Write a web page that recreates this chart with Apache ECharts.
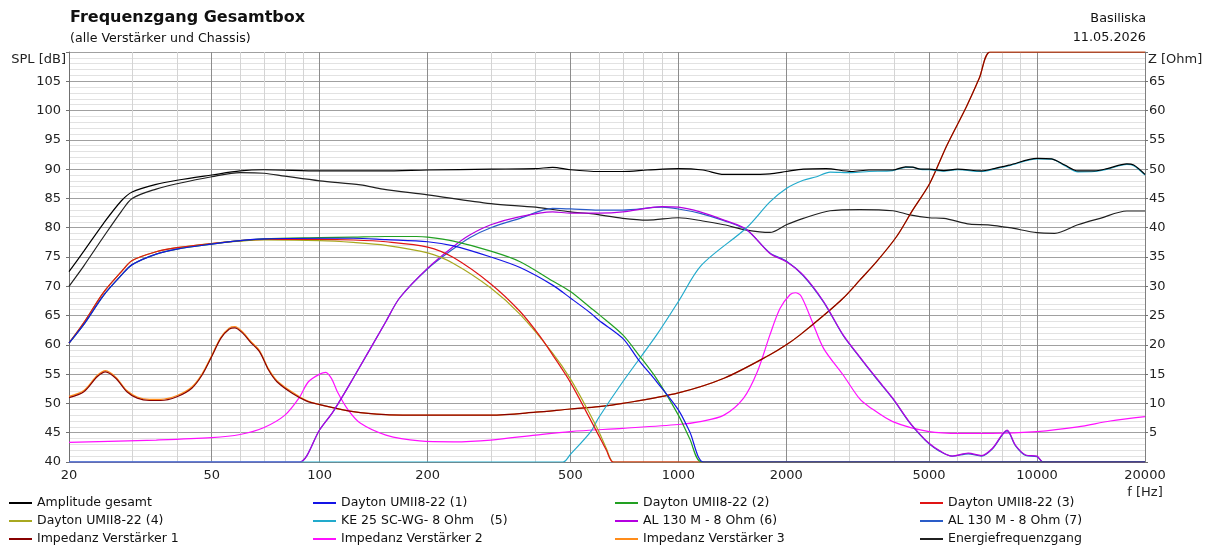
<!DOCTYPE html>
<html>
<head>
<meta charset="utf-8">
<script src="https://cdn.jsdelivr.net/npm/echarts@6/dist/echarts.min.js"></script>
<style>
html, body { margin: 0; padding: 0; background: #fff; }
#main { width: 1212px; height: 552px; }
</style>
</head>
<body>
<div id="main"></div>
<script>
// Frequenzgang Gesamtbox
const FONT = 'DejaVu Sans';

const majorFreqs = [20, 50, 100, 200, 500, 1000, 2000, 5000, 10000, 20000];
const minorFreqs = [30, 40, 60, 70, 80, 90, 300, 400, 600, 700, 800, 900,
  3000, 4000, 6000, 7000, 8000, 9000];

// SPL [dB]
const ampGesamt = [[20,72.5],[22,76.0],[25,80.8],[28,84.6],[30,86.1],[35,87.4],[40,88.1],[50,89.0],[60,89.7],[70,89.9],
  [100,89.7],[150,89.7],[200,89.85],[300,90.0],[400,90.1],[446,90.3],[500,89.9],[600,89.6],[700,89.6],[820,89.85],
  [1000,90.1],[1170,89.85],[1340,89.1],[1550,89.1],[1800,89.2],[2000,89.6],[2230,90.0],[2580,90.1],[3040,89.6],[3400,89.85],
  [3960,89.85],[4300,90.4],[4500,90.35],[4740,90.0],[5000,90.0],[5500,89.75],[6000,90.0],[7000,89.7],[7600,90.1],[8380,90.7],
  [10000,91.85],[10980,91.75],[11950,90.7],[13000,89.7],[14450,89.7],[15700,90.1],[17800,90.9],[18600,90.7],[20000,89.1]];

const energie = [[20,70.0],[22,73.5],[25,78.5],[28,82.8],[30,85.0],[35,86.6],[40,87.5],[50,88.7],[60,89.4],[70,89.3],
  [80,88.8],[100,88.0],[130,87.3],[150,86.6],[200,85.6],[300,84.1],[400,83.5],[500,82.7],[570,82.4],[700,81.6],
  [820,81.3],[1000,81.7],[1170,81.15],[1340,80.5],[1550,79.6],[1800,79.2],[2000,80.5],[2230,81.6],[2650,82.9],[3200,83.1],
  [3960,82.9],[4420,82.2],[5000,81.7],[5500,81.6],[6500,80.6],[7300,80.5],[8380,80.0],[10000,79.15],[11200,79.05],[13000,80.5],
  [15000,81.6],[17800,82.85],[20000,82.85]];

const dayton1 = [[20,60.3],[22,63.5],[25,68.5],[28,71.9],[30,73.7],[35,75.5],[40,76.35],[50,77.2],[60,77.8],[70,78.1],
  [100,78.2],[124,78.2],[153,77.95],[200,77.6],[236,76.9],[300,75.0],[362,73.2],[446,70.2],[500,68.0],[570,65.4],
  [600,64.2],[700,61.1],[775,57.4],[870,53.7],[1000,48.9],[1075,45.2],[1177,40],[1400,40],[3000,40],[20000,40]];

const dayton2 = [[20,60.3],[22,63.5],[25,68.5],[28,71.9],[30,73.7],[35,75.5],[40,76.35],[50,77.2],[60,77.8],[70,78.1],
  [100,78.3],[124,78.4],[153,78.5],[186,78.5],[200,78.4],[236,77.7],[300,76.0],[362,74.2],[446,70.9],[500,69.1],
  [570,66.3],[600,65.2],[700,61.7],[775,58.3],[870,54.2],[1000,48.0],[1075,44.0],[1160,40],[1400,40],[3000,40],[20000,40]];

const dayton3 = [[20,60.3],[22,63.8],[25,69.0],[28,72.5],[30,74.4],[35,75.9],[40,76.6],[50,77.3],[60,77.8],[70,78.0],
  [100,78.0],[124,77.9],[153,77.6],[200,76.7],[236,74.9],[300,70.4],[362,65.7],[411,61.5],[446,58.3],[500,53.6],
  [560,48.0],[600,44.5],[630,42.0],[658,40],[750,40],[1500,40],[20000,40]];

const dayton4 = [[20,60.3],[22,63.8],[25,69.0],[28,72.5],[30,74.4],[35,75.9],[40,76.6],[50,77.3],[60,77.7],[70,77.9],
  [100,77.8],[124,77.5],[153,77.0],[200,75.7],[236,73.9],[300,69.7],[362,65.2],[446,58.6],[500,54.2],[560,48.8],
  [600,45.2],[630,42.3],[660,40],[750,40],[1500,40],[20000,40]];

const ke25 = [[20,40],[200,40],[420,40],[477,40],[500,41.3],[570,45.2],[600,47.6],[700,53.7],[870,61.7],[1000,67.4],[1160,73.6],[1550,80.0],
  [1800,84.4],[2000,86.7],[2230,88.1],[2430,88.7],[2650,89.5],[3040,89.4],[3400,89.6],[3960,89.75],[4300,90.3],[4500,90.3],
  [4740,89.95],[5000,89.9],[5500,89.65],[6000,89.9],[7000,89.6],[7600,90.0],[8380,90.6],[10000,91.75],[10980,91.7],[11950,90.6],
  [13000,89.55],[14450,89.6],[15700,90.0],[17800,90.8],[18600,90.6],[20000,89.0]];

const al130_6 = [[20,40],[60,40],[80,40],[88,40],[100,45.5],[109,48.6],[124,54.3],[153,64.0],[167,68.0],[200,73.1],[236,76.8],[262,78.75],
  [300,80.5],[362,81.9],[446,82.7],[500,82.5],[600,82.5],[700,82.7],[900,83.6],[1000,83.5],[1150,82.7],[1340,81.3],
  [1550,79.7],[1800,75.6],[2000,74.2],[2230,71.9],[2540,67.4],[2880,61.7],[3200,58.0],[3570,54.3],[3960,50.9],[4400,46.9],
  [4740,44.6],[5000,43.2],[5330,42.0],[5800,41.0],[6430,41.5],[7000,41.1],[7500,42.3],[8250,45.45],[8700,42.9],[9300,41.2],
  [10000,41.0],[10400,40],[11500,40],[15000,40],[20000,40]];

const al130_7 = [[20,40],[60,40],[80,40],[88,40],[100,45.5],[109,48.6],[124,54.3],[153,64.0],[167,68.0],[200,73.0],[236,76.4],[262,78.3],
  [300,80.0],[362,81.6],[446,83.3],[500,83.2],[600,83.0],[700,83.0],[900,83.5],[1000,83.2],[1150,82.45],[1340,81.2],
  [1550,79.6],[1800,75.7],[2000,74.3],[2230,71.8],[2540,67.3],[2880,61.6],[3200,57.9],[3570,54.2],[3960,50.8],[4400,46.8],
  [4740,44.5],[5000,43.1],[5330,41.9],[5800,41.0],[6430,41.4],[7000,41.0],[7500,42.2],[8250,45.3],[8700,42.8],[9300,41.1],
  [10000,40.9],[10400,40],[11500,40],[15000,40],[20000,40]];

// Z [Ohm]
const impedanz1 = [[20,11.0],[22,12.0],[24,14.6],[25.3,15.4],[27,14.3],[29,12.0],[31,10.9],[33.5,10.5],[36,10.5],[40,11.15],
  [44,12.6],[47,14.85],[50,18.0],[53,21.1],[56,22.7],[58,22.9],[61,22.0],[64,20.5],[68,18.8],[72,15.7],
  [76,13.7],[84,11.7],[92,10.4],[100,9.8],[124,8.6],[153,8.1],[200,8.0],[300,8.0],[400,8.5],[500,9.05],
  [600,9.45],[700,10.0],[1000,11.8],[1340,14.3],[1800,18.3],[2000,20.0],[2184,21.7],[2540,25.0],[2884,28.0],[3200,31.0],
  [3570,34.2],[4060,38.5],[4500,43.0],[5025,47.6],[5600,54.0],[6360,60.7],[6900,65.5],[7400,70],[8500,70],[12000,70],[20000,70]];

const impedanz2 = [[20,3.35],[35,3.75],[50,4.15],[60,4.7],[70,5.9],[80,8.0],[87.5,10.9],[93,13.7],[100,15.0],[104,15.3],
  [108,14.2],[112,12.0],[120,8.9],[130,6.6],[153,4.6],[190,3.6],[236,3.45],[300,3.75],[400,4.6],[500,5.2],
  [700,5.75],[1000,6.4],[1150,6.9],[1340,8.0],[1520,10.9],[1660,15.4],[1800,21.7],[1920,26.2],[2050,28.6],[2120,28.9],
  [2200,28.3],[2360,24.0],[2540,19.4],[2880,14.85],[3200,10.8],[3400,9.45],[3960,6.9],[5000,5.2],[6150,4.9],[7500,4.9],
  [10000,5.2],[13000,6.0],[16000,7.0],[20000,7.75]];

// Verstärker 3 liegt fast deckungsgleich unter Verstärker 1
const impedanz3 = [[20,11.2],[22,12.2],[24,14.8],[25.3,15.6],[27,14.5],[29,12.2],[31,11.1],[33.5,10.7],[36,10.7],[40,11.35],
  [44,12.8],[47,15.05],[50,18.2],[53,21.3],[56,22.9],[58,23.1],[61,22.2],[64,20.7],[68,19.0],[72,15.9],
  [76,13.9],[84,11.9],[92,10.5],[100,9.8],[124,8.6],[153,8.1],[200,8.0],[300,8.0],[400,8.5],[500,9.05],
  [600,9.45],[700,10.0],[1000,11.8],[1340,14.3],[1800,18.3],[2000,20.0],[2184,21.7],[2540,25.0],[2884,28.0],[3200,31.0],
  [3570,34.2],[4060,38.5],[4500,43.0],[5025,47.6],[5600,54.0],[6360,60.7],[6900,65.5],[7400,70],[8500,70],[12000,70],[20000,70]];

const curves = [
  { name: 'Amplitude gesamt',       data: ampGesamt, color: '#000000', z: 0 },
  { name: 'Dayton UMII8-22 (1)',    data: dayton1,   color: '#1414e6', z: 0 },
  { name: 'Dayton UMII8-22 (2)',    data: dayton2,   color: '#22a022', z: 0 },
  { name: 'Dayton UMII8-22 (3)',    data: dayton3,   color: '#e01414', z: 0 },
  { name: 'Dayton UMII8-22 (4)',    data: dayton4,   color: '#a8a820', z: 0 },
  { name: 'KE 25 SC-WG- 8 Ohm    (5)', data: ke25,  color: '#22aacc', z: 0 },
  { name: 'AL 130 M - 8 Ohm (6)',   data: al130_6,   color: '#b400e0', z: 0 },
  { name: 'AL 130 M - 8 Ohm (7)',   data: al130_7,   color: '#2a5cc8', z: 0 },
  { name: 'Impedanz Verstärker 1',  data: impedanz1, color: '#880000', z: 1 },
  { name: 'Impedanz Verstärker 2',  data: impedanz2, color: '#ff10ff', z: 1 },
  { name: 'Impedanz Verstärker 3',  data: impedanz3, color: '#ff8c1a', z: 1 },
  { name: 'Energiefrequenzgang',    data: energie,   color: '#202020', z: 0 }
];

let myChart;

function init() {
  myChart = echarts.init(document.getElementById('main'));

  // BoxSim zeichnet die letzte Kurve zuerst
  let series = [];
  for (let i = curves.length - 1; i >= 0; i--) {
    let c = curves[i];
    series.push({
      name: c.name,
      type: 'line',
      xAxisIndex: 1,
      yAxisIndex: c.z,
      data: c.data,
      symbol: 'none',
      smooth: 0.3,
      lineStyle: { color: c.color, width: 1.2 },
      itemStyle: { color: c.color },
      emphasis: { disabled: true },
      silent: true
    });
  }

  let legendLeft = [9, 313, 615, 920];
  let legends = [];
  for (let col = 0; col < 4; col++) {
    let names = [];
    for (let row = 0; row < 3; row++) {
      names.push(curves[row * 4 + col].name);
    }
    legends.push({
      orient: 'vertical',
      left: legendLeft[col],
      top: 496,
      padding: 0,
      itemWidth: 23,
      itemHeight: 2,
      itemGap: 4,
      icon: 'rect',
      selectedMode: false,
      data: names,
      textStyle: { fontFamily: FONT, fontSize: 12.5, color: '#111', lineHeight: 14 }
    });
  }

  let option = {
    animation: false,
    backgroundColor: '#fff',
    textStyle: { fontFamily: FONT },
    title: {
      text: 'Frequenzgang Gesamtbox',
      subtext: '(alle Verstärker und Chassis)',
      left: 70,
      top: 10,
      padding: 0,
      itemGap: 6,
      textStyle: { fontFamily: FONT, fontSize: 16, fontWeight: 'bold', color: '#111' },
      subtextStyle: { fontFamily: FONT, fontSize: 12.6, color: '#111' }
    },
    graphic: [
      { type: 'text', right: 66, top: 12, style: { text: 'Basiliska', font: '12.8px "DejaVu Sans"', fill: '#111' } },
      { type: 'text', right: 66, top: 31, style: { text: '11.05.2026', font: '12.8px "DejaVu Sans"', fill: '#111' } }
    ],
    legend: legends,
    grid: { left: 69, right: 67, top: 52, bottom: 90 },
    xAxis: [
      {
        // Nebenlinien
        type: 'log', min: 20, max: 20000, position: 'top',
        axisLine: { show: false },
        axisLabel: { show: false },
        axisTick: { show: false, customValues: minorFreqs },
        splitLine: { show: true, lineStyle: { color: '#d4d4d4', width: 1 } }
      },
      {
        type: 'log', min: 20, max: 20000, position: 'bottom',
        axisLine: { show: true, onZero: false, lineStyle: { color: '#808080' } },
        axisTick: { show: false, customValues: majorFreqs },
        axisLabel: { customValues: majorFreqs, fontSize: 13, color: '#222', margin: 7,
          formatter: function (v) { return String(Math.round(v)); } },
        splitLine: { show: true, lineStyle: { color: '#8c8c8c', width: 1 } },
        name: 'f [Hz]',
        nameLocation: 'end',
        nameGap: 0,
        nameTextStyle: { fontSize: 13, color: '#222', align: 'center', verticalAlign: 'top', padding: [24, 0, 0, 0] }
      }
    ],
    yAxis: [
      {
        type: 'value', min: 40, max: 110, interval: 5, position: 'left',
        axisLine: { show: true, lineStyle: { color: '#707070' } },
        axisTick: { show: true, length: 3, lineStyle: { color: '#707070' } },
        axisLabel: { fontSize: 13, color: '#222', margin: 8,
          formatter: function (v) { return v === 110 ? '' : v; } },
        splitLine: { show: true, lineStyle: { color: '#a0a0a0' } },
        minorTick: { show: false, splitNumber: 5 },
        minorSplitLine: { show: true, lineStyle: { color: '#e2e2e2' } },
        name: 'SPL [dB]',
        nameLocation: 'end',
        nameGap: -8,
        nameTextStyle: { fontSize: 13, color: '#222', align: 'right', verticalAlign: 'middle', padding: [0, 3, 0, 0] }
      },
      {
        type: 'value', min: 0, max: 70, interval: 5, position: 'right',
        axisLine: { show: true, lineStyle: { color: '#808080' } },
        axisTick: { show: true, length: 3, lineStyle: { color: '#707070' } },
        axisLabel: { fontSize: 13, color: '#222', margin: 4,
          formatter: function (v) { return (v === 0 || v === 70) ? '' : v; } },
        splitLine: { show: false },
        name: 'Z [Ohm]',
        nameLocation: 'end',
        nameGap: -8,
        nameTextStyle: { fontSize: 13, color: '#222', align: 'left', verticalAlign: 'middle', padding: [0, 0, 0, 3] }
      }
    ],
    series: series
  };

  myChart.setOption(option);
}

init();
</script>
</body>
</html>
